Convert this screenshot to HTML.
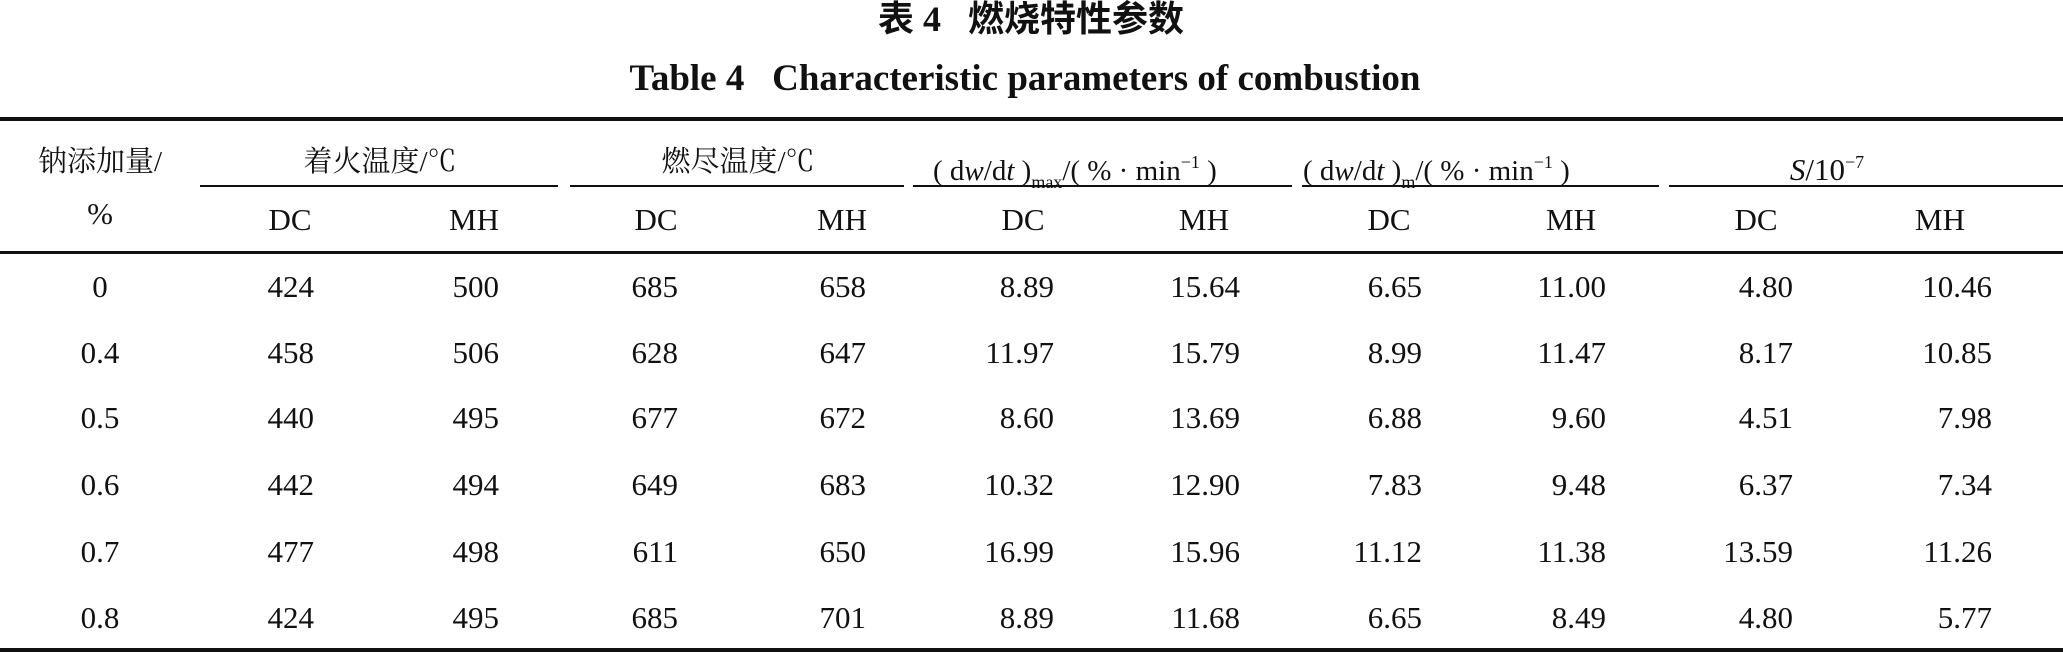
<!DOCTYPE html>
<html><head><meta charset="utf-8"><style>
body{margin:0;width:2063px;height:656px;background:#fff;position:relative;overflow:hidden;font-family:"Liberation Serif","Noto Serif CJK SC",serif;color:#111}
.t{position:absolute;white-space:nowrap;line-height:36px;height:36px;font-size:31px}
.c{transform:translateX(-50%)}
.r{transform:translateX(-100%)}
.ln{position:absolute;background:#111}
.cj{font-family:"Liberation Serif","Noto Serif CJK SC",serif;font-size:29px}
sup{font-size:18px;vertical-align:12px}
sub{font-size:18px;vertical-align:-8px}
</style></head><body>
<div class="t c" style="left:1031px;top:0px;font-weight:bold;font-size:36px;line-height:38px;height:38px;font-family:'Liberation Serif','Noto Sans CJK SC',sans-serif">表 4&nbsp;&nbsp;&nbsp;燃烧特性参数</div>
<div class="t c" style="left:1025px;top:59px;font-weight:bold;font-size:37px;line-height:40px;height:40px">Table 4&nbsp;&nbsp;&nbsp;Characteristic parameters of combustion</div>

<div class="ln" style="left:0;top:117px;width:2063px;height:4px"></div>
<div class="ln" style="left:200px;top:185px;width:358px;height:2px"></div>
<div class="ln" style="left:570px;top:185px;width:334px;height:2px"></div>
<div class="ln" style="left:913px;top:185px;width:379px;height:2px"></div>
<div class="ln" style="left:1302px;top:185px;width:357px;height:2px"></div>
<div class="ln" style="left:1669px;top:185px;width:394px;height:2px"></div>
<div class="ln" style="left:0;top:251px;width:2063px;height:3px"></div>
<div class="ln" style="left:0;top:648px;width:2063px;height:4px"></div>

<div class="t c cj" style="left:100px;top:144px">钠添加量/</div>
<div class="t c" style="left:100px;top:196px">%</div>
<div class="t c cj" style="left:380px;top:144px">着火温度/℃</div>
<div class="t c cj" style="left:738px;top:144px">燃尽温度/℃</div>
<div class="t" style="left:933px;top:144px;font-size:29px">( d<i>w</i>/d<i>t</i> )<sub>max</sub>/( % · min<sup>−1</sup> )</div>
<div class="t" style="left:1303px;top:144px;font-size:29px">( d<i>w</i>/d<i>t</i> )<sub>m</sub>/( % · min<sup>−1</sup> )</div>
<div class="t c" style="left:1827px;top:144px"><i>S</i>/10<sup>−7</sup></div>

<div class="t c" style="left:290px;top:202px">DC</div>
<div class="t c" style="left:474px;top:202px">MH</div>
<div class="t c" style="left:656px;top:202px">DC</div>
<div class="t c" style="left:842px;top:202px">MH</div>
<div class="t c" style="left:1023px;top:202px">DC</div>
<div class="t c" style="left:1204px;top:202px">MH</div>
<div class="t c" style="left:1389px;top:202px">DC</div>
<div class="t c" style="left:1571px;top:202px">MH</div>
<div class="t c" style="left:1756px;top:202px">DC</div>
<div class="t c" style="left:1940px;top:202px">MH</div>

<div class="t c" style="left:100px;top:269px">0</div>
<div class="t c" style="left:100px;top:335px">0.4</div>
<div class="t c" style="left:100px;top:400px">0.5</div>
<div class="t c" style="left:100px;top:467px">0.6</div>
<div class="t c" style="left:100px;top:534px">0.7</div>
<div class="t c" style="left:100px;top:600px">0.8</div>

<div class="t r" style="left:314px;top:269px">424</div><div class="t r" style="left:499px;top:269px">500</div><div class="t r" style="left:678px;top:269px">685</div><div class="t r" style="left:866px;top:269px">658</div><div class="t r" style="left:1054px;top:269px">8.89</div><div class="t r" style="left:1240px;top:269px">15.64</div><div class="t r" style="left:1422px;top:269px">6.65</div><div class="t r" style="left:1606px;top:269px">11.00</div><div class="t r" style="left:1793px;top:269px">4.80</div><div class="t r" style="left:1992px;top:269px">10.46</div>

<div class="t r" style="left:314px;top:335px">458</div><div class="t r" style="left:499px;top:335px">506</div><div class="t r" style="left:678px;top:335px">628</div><div class="t r" style="left:866px;top:335px">647</div><div class="t r" style="left:1054px;top:335px">11.97</div><div class="t r" style="left:1240px;top:335px">15.79</div><div class="t r" style="left:1422px;top:335px">8.99</div><div class="t r" style="left:1606px;top:335px">11.47</div><div class="t r" style="left:1793px;top:335px">8.17</div><div class="t r" style="left:1992px;top:335px">10.85</div>

<div class="t r" style="left:314px;top:400px">440</div><div class="t r" style="left:499px;top:400px">495</div><div class="t r" style="left:678px;top:400px">677</div><div class="t r" style="left:866px;top:400px">672</div><div class="t r" style="left:1054px;top:400px">8.60</div><div class="t r" style="left:1240px;top:400px">13.69</div><div class="t r" style="left:1422px;top:400px">6.88</div><div class="t r" style="left:1606px;top:400px">9.60</div><div class="t r" style="left:1793px;top:400px">4.51</div><div class="t r" style="left:1992px;top:400px">7.98</div>

<div class="t r" style="left:314px;top:467px">442</div><div class="t r" style="left:499px;top:467px">494</div><div class="t r" style="left:678px;top:467px">649</div><div class="t r" style="left:866px;top:467px">683</div><div class="t r" style="left:1054px;top:467px">10.32</div><div class="t r" style="left:1240px;top:467px">12.90</div><div class="t r" style="left:1422px;top:467px">7.83</div><div class="t r" style="left:1606px;top:467px">9.48</div><div class="t r" style="left:1793px;top:467px">6.37</div><div class="t r" style="left:1992px;top:467px">7.34</div>

<div class="t r" style="left:314px;top:534px">477</div><div class="t r" style="left:499px;top:534px">498</div><div class="t r" style="left:678px;top:534px">611</div><div class="t r" style="left:866px;top:534px">650</div><div class="t r" style="left:1054px;top:534px">16.99</div><div class="t r" style="left:1240px;top:534px">15.96</div><div class="t r" style="left:1422px;top:534px">11.12</div><div class="t r" style="left:1606px;top:534px">11.38</div><div class="t r" style="left:1793px;top:534px">13.59</div><div class="t r" style="left:1992px;top:534px">11.26</div>

<div class="t r" style="left:314px;top:600px">424</div><div class="t r" style="left:499px;top:600px">495</div><div class="t r" style="left:678px;top:600px">685</div><div class="t r" style="left:866px;top:600px">701</div><div class="t r" style="left:1054px;top:600px">8.89</div><div class="t r" style="left:1240px;top:600px">11.68</div><div class="t r" style="left:1422px;top:600px">6.65</div><div class="t r" style="left:1606px;top:600px">8.49</div><div class="t r" style="left:1793px;top:600px">4.80</div><div class="t r" style="left:1992px;top:600px">5.77</div>
</body></html>
